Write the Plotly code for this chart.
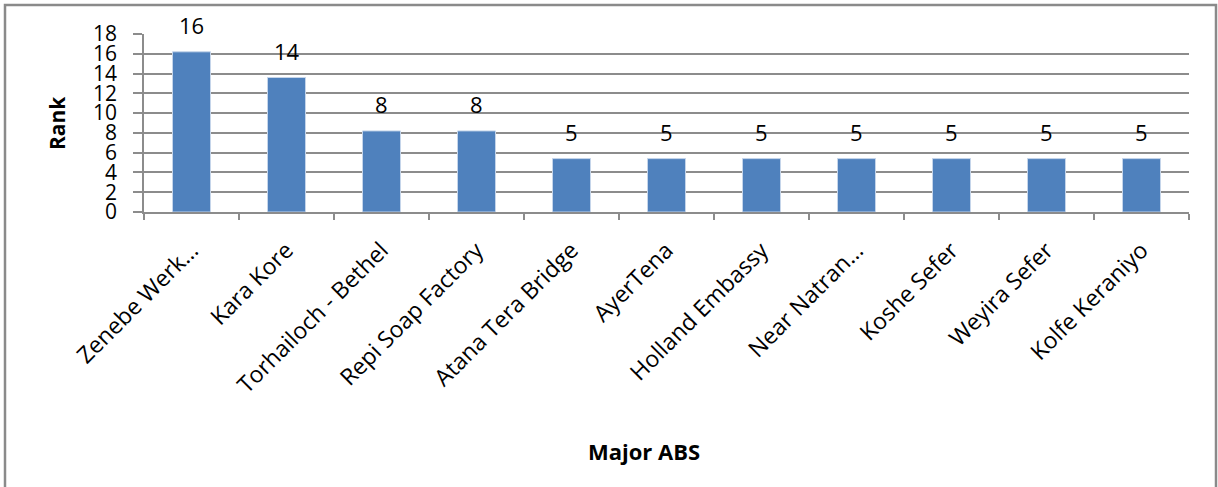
import plotly.graph_objects as go

# Ranked abstraction sites
sites = [
    "Zenebe Werk…", "Kara Kore", "Torhailoch - Bethel", "Repi Soap Factory",
    "Atana Tera Bridge", "AyerTena", "Holland Embassy", "Near Natran…",
    "Koshe Sefer", "Weyira Sefer", "Kolfe Keraniyo",
]
rank = [16.2, 13.6, 8.2, 8.2, 5.4, 5.4, 5.4, 5.4, 5.4, 5.4, 5.4]
y_ticks = [0, 2, 4, 6, 8, 10, 12, 14, 16, 18]

W, H = 1218, 487
M_L, M_R, M_T, M_B = 144, 29, 34, 275
plot_w = W - M_L - M_R
plot_h = H - M_T - M_B

FONT = "Open Sans"
GRID = "#8c8c8c"

fig = go.Figure(
    go.Bar(
        x=sites,
        y=rank,
        marker=dict(color="#4F81BD", line=dict(color="#c5d5ea", width=1)),
        hoverinfo="x+y",
    )
)

# value labels above each bar
for s, v in zip(sites, rank):
    fig.add_annotation(
        x=s, y=v, text=f"{v:.0f}", showarrow=False,
        yanchor="middle", yshift=27,
        font=dict(family=FONT, size=22, color="#000000"),
    )

# axis titles
fig.add_annotation(
    xref="paper", yref="paper", x=(644 - M_L) / plot_w, y=0,
    yshift=-(451 - (H - M_B)), yanchor="middle", xanchor="center",
    text="<b>Major ABS</b>", showarrow=False,
    font=dict(family=FONT, size=22, color="#000000"),
)
fig.add_annotation(
    xref="paper", yref="paper", x=0, y=0.5, xshift=-(M_L - 57),
    xanchor="center", yanchor="middle", textangle=-90,
    text="<b>Rank</b>", showarrow=False,
    font=dict(family=FONT, size=21, color="#000000"),
)

# chart border
fig.add_shape(
    type="rect", xref="paper", yref="paper",
    x0=(5 - M_L) / plot_w, x1=(1216 - M_L) / plot_w,
    y0=((H - M_B) - 520) / plot_h, y1=((H - M_B) - 5) / plot_h,
    line=dict(color="#8a8a8a", width=2.5), fillcolor="rgba(0,0,0,0)", layer="below",
)

fig.update_layout(
    width=W, height=H,
    margin=dict(l=M_L, r=M_R, t=M_T, b=M_B, pad=0),
    paper_bgcolor="white", plot_bgcolor="white",
    bargap=0.6, showlegend=False,
    font=dict(family=FONT, color="#000000"),
)
fig.update_xaxes(
    type="category", tickangle=-45, tickson="boundaries",
    ticks="outside", ticklen=6, tickcolor=GRID, tickwidth=1.5,
    showline=True, linecolor=GRID, linewidth=1.5,
    showgrid=False, ticklabelstandoff=14,
    tickfont=dict(family=FONT, size=23, color="#000000"),
)
fig.update_yaxes(
    range=[0, 18], tickvals=y_ticks, ticktext=[str(t) for t in y_ticks],
    ticks="outside", ticklen=9, tickcolor=GRID, tickwidth=1.5,
    showline=True, linecolor=GRID, linewidth=1.5,
    showgrid=True, gridcolor=GRID, gridwidth=1.5, zeroline=False,
    ticklabelstandoff=12,
    tickfont=dict(family=FONT, size=21, color="#000000"),
)

fig.write_html("out.html")
